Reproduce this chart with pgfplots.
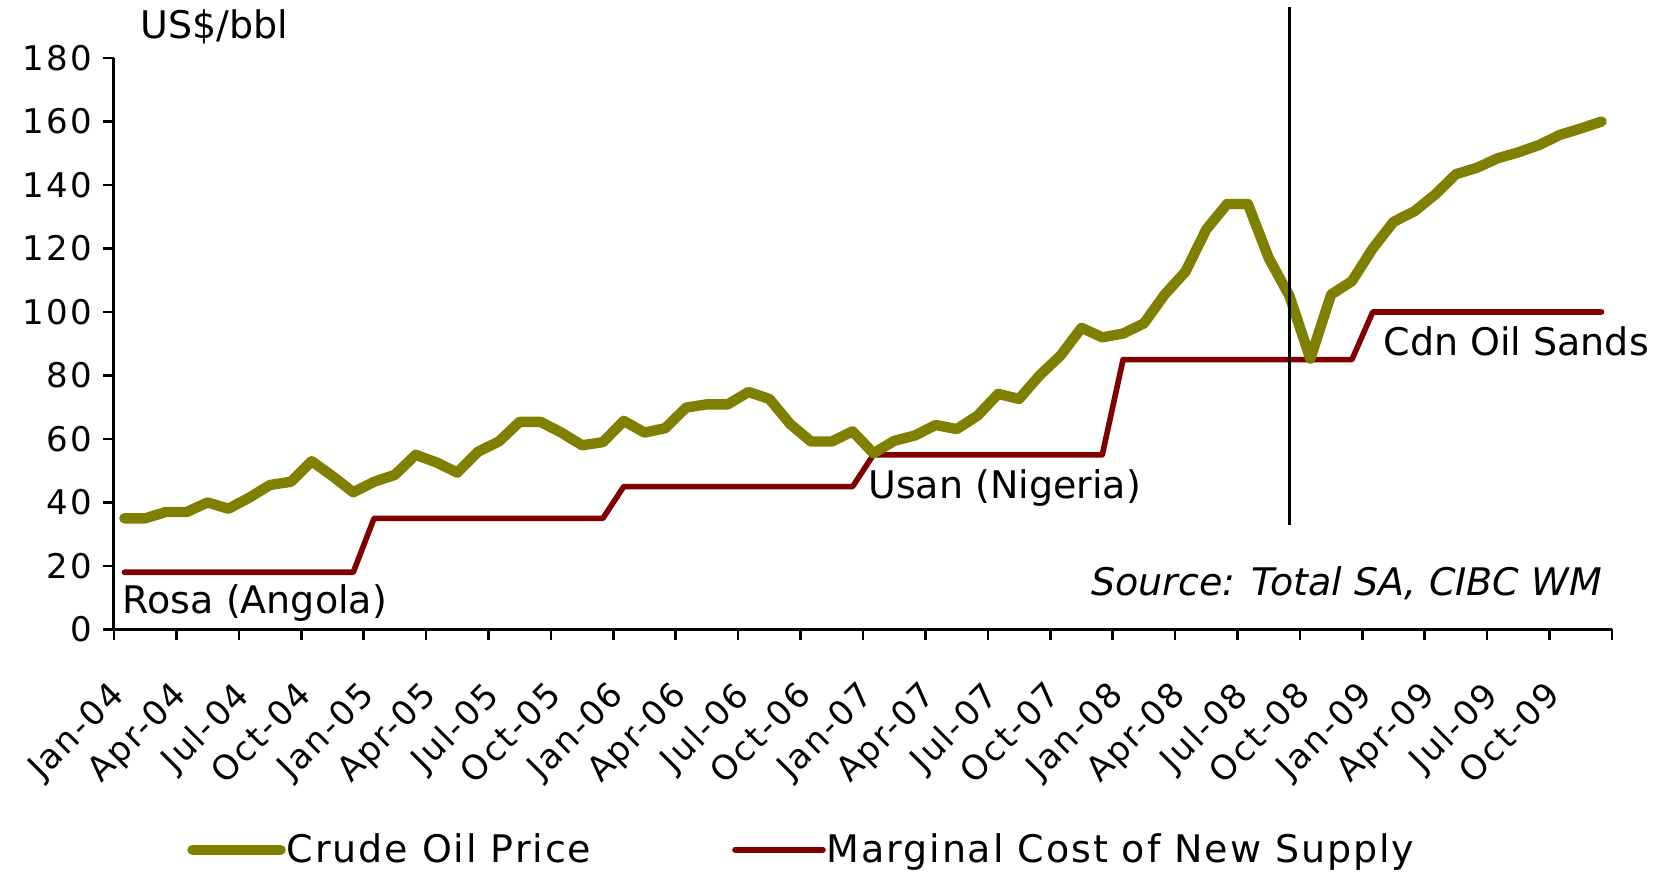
\documentclass[border=0pt]{standalone}
\usepackage{pgfplots}
\pgfplotsset{compat=1.18}
\usepackage{fontspec}
\setmainfont{DejaVu Sans}
\newfontfamily\tickfam[LetterSpace=6]{DejaVu Sans}
\newfontfamily\legfam[LetterSpace=5]{DejaVu Sans}
\definecolor{oliveline}{RGB}{128,128,0}
\definecolor{darkredline}{RGB}{128,0,0}
\newcommand\tickfont{\tickfam\fontsize{17}{20}\selectfont}
\newcommand\bigfont{\fontsize{19}{23}\selectfont}
\newcommand\legfont{\legfam\fontsize{19}{23}\selectfont}

\pgfplotstableread{
m price
0 35
1 35
2 37
3 37
4 40
5 38
6 41.5
7 45.5
8 46.5
9 53
10 48.3
11 43.2
12 46.5
13 48.7
14 55
15 52.6
16 49.4
17 56
18 59.2
19 65.4
20 65.4
21 62
22 58
23 59
24 65.7
25 62
26 63.4
27 69.9
28 70.9
29 70.9
30 74.8
31 72.6
32 64.7
33 59.2
34 59.2
35 62.4
36 55.5
37 59.4
38 61.1
39 64.4
40 63.1
41 67.3
42 74.2
43 72.6
44 80.1
45 86.3
46 95
47 92
48 93.2
49 96.4
50 105.5
51 112.7
52 126
53 134
54 134
55 117
56 105
57 85.3
58 105.5
59 109.7
60 120
61 128.4
62 131.7
63 137
64 143.4
65 145.4
66 148.4
67 150.3
68 152.6
69 155.8
70 157.8
71 160
}\crude

\pgfplotstableread{
m cost
0 18
11 18
12 35
23 35
24 45
35 45
36 55
47 55
48 85
59 85
60 100
71 100
}\marginal

\begin{document}
\begin{tikzpicture}
\begin{axis}[
  scale only axis, width=749pt, height=285.7pt,
  xmin=-0.5, xmax=71.5, ymin=0, ymax=180,
  clip=false,
  axis x line*=bottom, axis y line*=left,
  axis line style={line width=1.5pt, black},
  tick align=outside,
  major tick length=5.5pt, minor tick length=5.5pt,
  tick style={line width=1.3pt, black},
  ytick={0,20,...,180},
  yticklabel style={font=\tickfont, xshift=-2pt},
  xtick={0,3,...,69},
  xticklabels={Jan-04,Apr-04,Jul-04,Oct-04,Jan-05,Apr-05,Jul-05,Oct-05,Jan-06,Apr-06,Jul-06,Oct-06,Jan-07,Apr-07,Jul-07,Oct-07,Jan-08,Apr-08,Jul-08,Oct-08,Jan-09,Apr-09,Jul-09,Oct-09},
  major x tick style={draw=none},
  minor xtick={-0.5,2.5,...,71.5},
  xticklabel style={font=\tickfont, xshift=-8.2pt, yshift=-19.3pt, rotate=45, anchor=north east, inner sep=0pt},
  /pgf/number format/assume math mode=true,
  legend columns=2,
  legend style={at={(0.0487,-0.3857)}, anchor=west, draw=none, fill=none,
    font=\legfont, inner sep=0pt, column sep=0pt,
    nodes={inner sep=0.5pt},
    /tikz/every even column/.append style={column sep=70pt}},
  legend cell align=left,
  legend image code/.code={\draw[#1] (0pt,0pt) -- (44pt,0pt);},
]
\addplot[darkredline, line width=2.8pt, line join=round, line cap=round, forget plot] table[x=m, y=cost] {\marginal};
\addplot[oliveline, line width=5.2pt, line join=round, line cap=round, forget plot] table[x=m, y=price] {\crude};
\addplot[black, line width=1.2pt, forget plot] coordinates {(56,33) (56,196)};

\addlegendimage{oliveline, line width=5.2pt, line cap=round}
\addlegendentry{Crude Oil Price}
\addlegendimage{darkredline, line width=2.8pt, line cap=round}
\addlegendentry{Marginal Cost of New Supply}

\node[anchor=base west, font=\bigfont, inner sep=0pt] at (axis cs:0.74,186.3) {US\$/bbl};
\node[anchor=base west, font=\bigfont, inner sep=0pt] at (axis cs:-0.09,5.0) {Rosa (Angola)};
\node[anchor=base west, font=\bigfont, inner sep=0pt] at (axis cs:35.73,41.2) {Usan (Nigeria)};
\node[anchor=base west, font=\bigfont, inner sep=0pt] at (axis cs:60.5,86.4) {Cdn Oil Sands};
\node[anchor=base east, font=\bigfont\itshape, inner sep=0pt] at (axis cs:71.03,10.6) {Source: Total SA, CIBC WM};
\end{axis}
\pgfresetboundingbox
\useasboundingbox (-57pt,-122.8pt) rectangle (777pt,314.7pt);
\end{tikzpicture}
\end{document}
